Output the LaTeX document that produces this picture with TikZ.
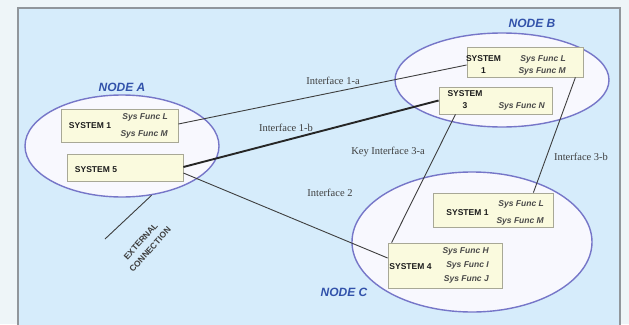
\documentclass[tikz,border=0pt]{standalone}
\usepackage{fontspec}
\setmainfont{Liberation Serif}
\newfontfamily\arialf{Liberation Sans}
\usetikzlibrary{shapes.geometric}

\definecolor{outerbg}{RGB}{238,245,248}
\definecolor{panelbg}{RGB}{214,236,251}
\definecolor{panelrule}{RGB}{145,150,155}
\definecolor{ellfill}{RGB}{248,248,254}
\definecolor{ellrule}{RGB}{118,118,200}
\definecolor{boxfill}{RGB}{250,250,222}
\definecolor{boxrule}{RGB}{168,168,150}
\definecolor{nodeblue}{RGB}{50,82,170}
\definecolor{wire}{RGB}{62,62,62}
\definecolor{ink}{RGB}{28,28,28}

\tikzset{
  hostnode/.style={ellipse, draw=ellrule, line width=1.4pt, fill=ellfill, inner sep=0pt},
  sysbox/.style={rectangle, draw=boxrule, line width=0.8pt, fill=boxfill, inner sep=0pt},
  hosttitle/.style={font=\arialf\bfseries\itshape\fontsize{12}{12}\selectfont, text=nodeblue, inner sep=0pt},
  sysname/.style={font=\arialf\bfseries\fontsize{8.5}{#1}\selectfont, text=ink, inner sep=0pt, align=center},
  sysname/.default=12,
  sysfunc/.style={font=\arialf\bfseries\itshape\fontsize{8.5}{#1}\selectfont, text=ink!80, inner sep=0pt, align=right, anchor=east},
  sysfunc/.default=12,
  iflabel/.style={font=\fontsize{10.5}{12}\selectfont, text=ink!85, inner sep=0pt},
  link/.style={draw=wire, line width=0.9pt},
  keylink/.style={draw=black!85, line width=1.9pt},
  extlabel/.style={font=\arialf\bfseries\fontsize{8.5}{12.5}\selectfont, text=ink!85, inner sep=0pt, align=center, rotate=48}
}

\begin{document}
\begin{tikzpicture}[x=1pt, y=-1pt]
\useasboundingbox (0,0) rectangle (629,324);
\clip (0,0) rectangle (629,324);

% page and framed panel
\fill[outerbg] (0,0) rectangle (629,324);
\draw[panelrule, line width=1.5pt, fill=panelbg] (18,8) rectangle (620,334);

% hosts
\node[hostnode, minimum width=194pt, minimum height=102pt] (nodeA) at (122,146) {};
\node[hostnode, minimum width=214pt, minimum height=94pt] (nodeB) at (502,80) {};
\node[hostnode, minimum width=240pt, minimum height=140pt] (nodeC) at (472,242) {};

\node[hosttitle] (titleA) at (122,87) {NODE A};
\node[hosttitle] (titleB) at (532,23) {NODE B};
\node[hosttitle] (titleC) at (344,292) {NODE C};

% systems
\node[sysbox, minimum width=117pt, minimum height=33pt] (a1) at (119.5,125.5) {};
\node[sysbox, minimum width=116pt, minimum height=27pt] (a5) at (125,167.5) {};
\node[sysbox, minimum width=116pt, minimum height=30pt] (b1) at (525,62) {};
\node[sysbox, minimum width=113pt, minimum height=27pt] (b3) at (495.5,100.5) {};
\node[sysbox, minimum width=120pt, minimum height=34pt] (c1) at (493,210) {};
\node[sysbox, minimum width=114pt, minimum height=45pt] (c4) at (445,265.5) {};

% system texts
\node[sysname] (a1n) at (90,126) {SYSTEM 1};
\node[sysfunc=17] (a1f) at (168,125.5) {Sys Func L\\Sys Func M};

\node[sysname] (a5n) at (96,169.5) {SYSTEM 5};

\node[sysname] (b1n) at (483.5,65) {SYSTEM\\1};
\node[sysfunc] (b1f) at (566,65) {Sys Func L\\Sys Func M};

\node[sysname] (b3n) at (465,100) {SYSTEM\\3};
\node[sysfunc] (b3f) at (545,106) {Sys Func N};

\node[sysname] (c1n) at (467.5,213) {SYSTEM 1};
\node[sysfunc=17] (c1f) at (544,212.5) {Sys Func L\\Sys Func M};

\node[sysname] (c4n) at (410.5,267) {SYSTEM 4};
\node[sysfunc=14] (c4f) at (489,265.5) {Sys Func H\\Sys Func I\\Sys Func J};

% interfaces
\draw[link] ([yshift=1.5pt]a1.east) -- ([yshift=-3pt]b1.west);
\draw[keylink] ([yshift=0.5pt]a5.east) -- (b3.west);
\draw[link] ([yshift=-5.5pt]a5.east) -- ([yshift=7.5pt]c4.west);
\draw[link] ([xshift=-40pt]b3.south) -- ([xshift=4pt]c4.north west);
\draw[link] ([xshift=-8pt]b1.south east) -- ([xshift=-20pt]c1.north east);

\node[iflabel] (if1a) at (333,81) {Interface 1-a};
\node[iflabel] (if1b) at (286,128) {Interface 1-b};
\node[iflabel] (if2) at (330,193) {Interface 2};
\node[iflabel] (if3a) at (388,152) {Key Interface 3-a};
\node[iflabel] (if3b) at (581,157) {Interface 3-b};

% external connection
\coordinate (extend) at (105,239);
\draw[link] (nodeA.-59) -- (extend);
\node[extlabel] (ext) at (145.5,245.5) {EXTERNAL\\CONNECTION};
\end{tikzpicture}
\end{document}
